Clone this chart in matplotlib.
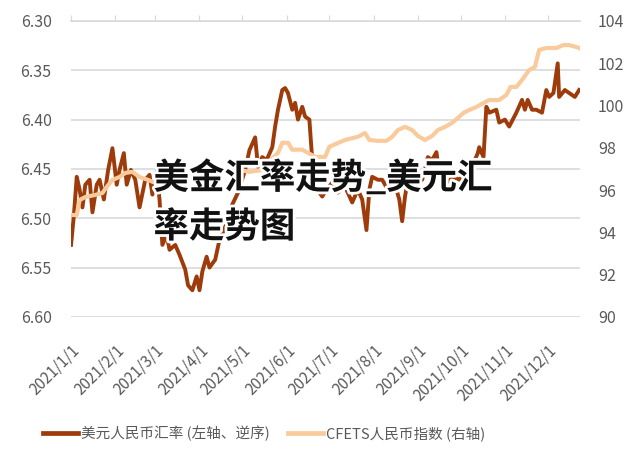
import numpy as np
import pandas as pd
import matplotlib
matplotlib.use("Agg")
from matplotlib import pyplot as plt
import matplotlib.dates as mdates
import matplotlib.patheffects as pe

plt.rcParams['font.family'] = ['Noto Sans CJK SC', 'DejaVu Sans']

# USD/CNY (left axis, inverted) - day offsets from 2021-01-01
usd_days = [0, 2, 4, 6, 8, 10, 13, 15, 18, 20, 23, 26, 29, 32, 34, 37, 39, 42, 45, 48,
            52, 55, 57, 60, 62, 64, 67, 69, 73, 76, 80, 82, 85, 88, 90, 92, 95, 97, 101, 104,
            110, 113, 117, 122, 125, 129, 131, 134, 137, 141, 143, 145, 148, 150, 152, 155, 157, 159, 162, 164,
            167, 169, 171, 176, 179, 183, 187, 192, 197, 201, 204, 207, 209, 211, 215, 218, 222, 225, 228, 230,
            232, 234, 236, 239, 242, 246, 248, 250, 253, 256, 258, 263, 268, 272, 277, 282, 285, 286, 289, 291,
            293, 298, 300, 304, 307, 312, 316, 318, 320, 323, 326, 330, 333, 335, 338, 341, 342, 346, 349, 353, 356]
usd_cny = [6.527, 6.497, 6.458, 6.471, 6.489, 6.466, 6.461, 6.494, 6.466, 6.461, 6.481, 6.451, 6.429, 6.466, 6.451, 6.434, 6.466, 6.451, 6.461, 6.489,
           6.461, 6.456, 6.476, 6.453, 6.481, 6.527, 6.517, 6.532, 6.527, 6.537, 6.552, 6.568, 6.573, 6.559, 6.573, 6.554, 6.539, 6.550, 6.542, 6.522,
           6.502, 6.486, 6.474, 6.451, 6.431, 6.418, 6.448, 6.438, 6.441, 6.428, 6.407, 6.390, 6.370, 6.368, 6.373, 6.390, 6.383, 6.400, 6.387, 6.397,
           6.400, 6.441, 6.468, 6.478, 6.471, 6.464, 6.474, 6.468, 6.484, 6.471, 6.481, 6.512, 6.471, 6.458, 6.461, 6.461, 6.471, 6.461, 6.471, 6.481,
           6.503, 6.478, 6.461, 6.458, 6.461, 6.461, 6.451, 6.438, 6.441, 6.433, 6.454, 6.464, 6.458, 6.461, 6.454, 6.444, 6.434, 6.428, 6.438, 6.387,
           6.393, 6.390, 6.403, 6.400, 6.407, 6.393, 6.380, 6.390, 6.380, 6.390, 6.390, 6.393, 6.370, 6.377, 6.373, 6.343, 6.377, 6.370, 6.373, 6.377, 6.370]

# CFETS RMB index (right axis)
cfets_days = [0, 4, 6, 10, 17, 22, 25, 29, 34, 38, 43, 48, 54, 59, 66, 76, 90, 104, 118, 125,
              134, 138, 145, 148, 152, 155, 162, 166, 171, 178, 181, 192, 201, 206, 209, 215, 221, 225, 229, 234,
              239, 243, 248, 253, 257, 262, 267, 271, 275, 279, 284, 289, 293, 300, 305, 308, 312, 316, 321, 325,
              328, 333, 340, 345, 349, 354, 356]
cfets = [94.82, 94.82, 95.53, 95.67, 95.77, 95.86, 96.15, 96.48, 96.62, 96.81, 96.86, 96.62, 96.48, 96.34, 96.5, 96.7, 96.9, 97.0, 96.95, 96.86,
         96.95, 97.29, 97.76, 98.24, 98.24, 97.91, 97.91, 97.76, 97.57, 97.57, 98.05, 98.37, 98.52, 98.70, 98.37, 98.33, 98.33, 98.52, 98.84, 98.99,
         98.84, 98.56, 98.37, 98.56, 98.84, 98.99, 99.18, 99.41, 99.65, 99.79, 99.93, 100.12, 100.26, 100.26, 100.50, 100.88, 100.88, 101.21, 101.68, 101.82,
         102.63, 102.72, 102.72, 102.86, 102.86, 102.77, 102.72]

start = pd.Timestamp('2021-01-01')
usd_dates = start + pd.to_timedelta(usd_days, unit='D')
cfets_dates = start + pd.to_timedelta(cfets_days, unit='D')
month_ticks = pd.date_range('2021-01-01', '2021-12-01', freq='MS')

gray = '#595959'
fig = plt.figure(figsize=(6.4, 4.66), dpi=100)
ax = fig.add_axes([0.111, 0.320, 0.795, 0.635])
ax2 = ax.twinx()

ax.plot(usd_dates, usd_cny, color='#9e3b0b', lw=2.8, label='美元人民币汇率 (左轴、逆序)', solid_joinstyle='round')
ax2.plot(cfets_dates, cfets, color='#f9cb9c', lw=3.0, label='CFETS人民币指数 (右轴)', solid_joinstyle='round')

ax.set_ylim(6.60, 6.30)
ax.set_yticks(np.arange(6.30, 6.601, 0.05))
ax.yaxis.set_major_formatter(matplotlib.ticker.FormatStrFormatter('%.2f'))
ax2.set_ylim(90, 104)
ax2.set_yticks(np.arange(90, 105, 2))

ax.set_xlim(start, start + pd.Timedelta(days=356.5))
ax.set_xticks(month_ticks)
ax.xaxis.set_major_formatter(mdates.DateFormatter('%Y/%-m/%-d'))

ax.grid(axis='y', color='#d9d9d9', lw=1.2)
ax.set_axisbelow(True)
for a in (ax, ax2):
    for s in a.spines.values():
        s.set_visible(False)
ax.spines['top'].set_visible(True)
ax.spines['top'].set_color('#d9d9d9')
ax.spines['top'].set_linewidth(1.2)

ax.tick_params(axis='x', top=True, bottom=False, labelbottom=True, labeltop=False,
               direction='out', length=4, color='#d9d9d9', colors=gray, labelsize=11, pad=14)
ax.tick_params(axis='x', which='major', labelcolor=gray)
for lab in ax.get_xticklabels():
    lab.set_rotation(45)
    lab.set_ha('right')
    lab.set_va('top')
    lab.set_rotation_mode('anchor')
ax.tick_params(axis='y', length=0, labelsize=11.5, labelcolor=gray, pad=14)
ax2.tick_params(axis='y', length=0, labelsize=11.5, labelcolor=gray, pad=13)

h1, l1 = ax.get_legend_handles_labels()
h2, l2 = ax2.get_legend_handles_labels()
leg = fig.legend(h1 + h2, l1 + l2, loc='center left', bbox_to_anchor=(0.052, 0.069), ncol=2,
                 frameon=False, fontsize=10.5, handlelength=2.4, handletextpad=0.15, columnspacing=1.3,
                 borderpad=0.2, labelcolor=gray)
for ln in leg.get_lines():
    ln.set_linewidth(3.4)

stroke = [pe.withStroke(linewidth=4, foreground='white')]
fig.text(0.240, 1 - 178 / 466, '美金汇率走势_美元汇', fontsize=25.5, fontweight='heavy',
         color='#111111', va='center', ha='left', path_effects=stroke)
fig.text(0.240, 1 - 227 / 466, '率走势图', fontsize=25.5, fontweight='heavy',
         color='#111111', va='center', ha='left', path_effects=stroke)

fig.savefig('out.png', dpi=100)
